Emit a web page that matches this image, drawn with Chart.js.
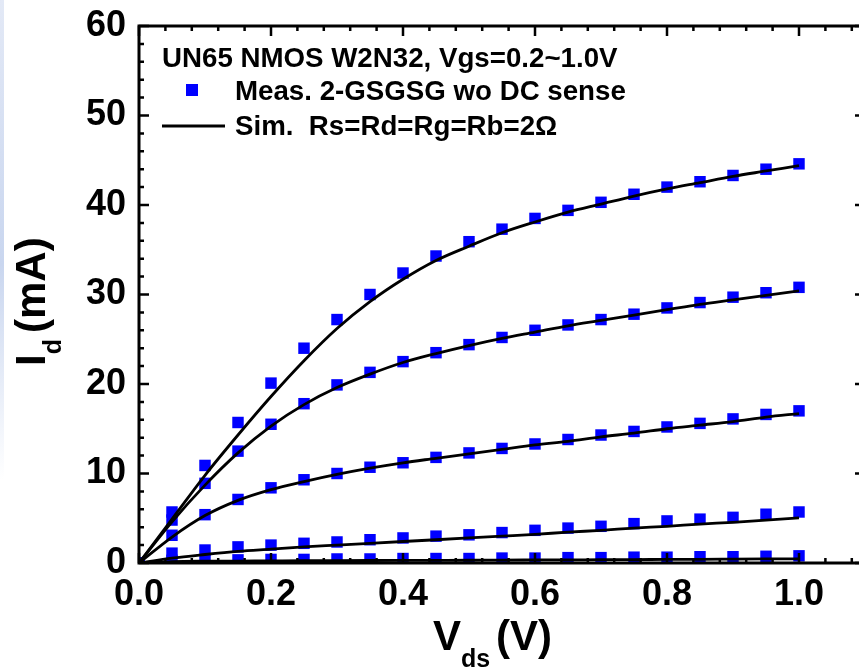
<!DOCTYPE html>
<html>
<head>
<meta charset="utf-8">
<title>UN65 NMOS W2N32 Id-Vds</title>
<script src="https://cdn.jsdelivr.net/npm/chart.js@4.4.1/dist/chart.umd.min.js"></script>
<style>
  html, body { margin: 0; padding: 0; background: #fff; overflow: hidden; }
  #wrap { position: relative; width: 859px; height: 670px; overflow: hidden; }
  #box { position: absolute; left: 0; top: 0; width: 880px; height: 670px; }
  #edge { position: absolute; left: 0; top: 0; width: 4px; height: 480px;
          background: linear-gradient(#e3e9f6, #c9d6ef 55%, #ffffff); }
</style>
</head>
<body>
<div id="wrap">
  <div id="box"><canvas id="c" width="880" height="670"></canvas></div>
  <div id="edge"></div>
</div>
<script>
// Drain voltage sweep (V)
const vds = [0, 0.05, 0.1, 0.15, 0.2, 0.25, 0.3, 0.35, 0.4, 0.45, 0.5,
             0.55, 0.6, 0.65, 0.7, 0.75, 0.8, 0.85, 0.9, 0.95, 1.0];

// Measured drain current (mA), one list per gate voltage
const measVgs10 = [0, 5.7, 10.9, 15.7, 20.1, 24.0, 27.2, 30.0, 32.4, 34.3, 35.9,
                   37.3, 38.5, 39.4, 40.3, 41.2, 42.0, 42.6, 43.3, 44.0, 44.6];
const measVgs08 = [0, 4.8, 8.9, 12.5, 15.5, 17.8, 19.9, 21.3, 22.5, 23.5, 24.4,
                   25.2, 26.0, 26.6, 27.2, 27.8, 28.5, 29.1, 29.7, 30.2, 30.8];
const measVgs06 = [0, 3.1, 5.4, 7.1, 8.4, 9.3, 10.0, 10.7, 11.2, 11.8, 12.3,
                   12.8, 13.3, 13.8, 14.3, 14.7, 15.2, 15.6, 16.1, 16.6, 17.0];
const measVgs04 = [0, 1.1, 1.45, 1.8, 2.0, 2.2, 2.35, 2.6, 2.8, 3.0, 3.15,
                   3.4, 3.65, 3.9, 4.1, 4.4, 4.7, 4.9, 5.1, 5.45, 5.7];
const measVgs02 = [0, 0.3, 0.35, 0.35, 0.4, 0.4, 0.45, 0.45, 0.5, 0.5, 0.5,
                   0.55, 0.55, 0.6, 0.6, 0.65, 0.65, 0.7, 0.7, 0.75, 0.8];

// Simulated drain current (mA), Rs=Rd=Rg=Rb=2 ohm
const simVgs10 = [0, 4.9, 9.8, 14.3, 18.6, 22.6, 26.2, 29.2, 31.7, 33.8, 35.4,
                  36.9, 38.1, 39.2, 40.1, 41.0, 41.8, 42.5, 43.2, 43.8, 44.4];
const simVgs08 = [0, 4.6, 8.7, 12.3, 15.3, 17.7, 19.6, 21.1, 22.4, 23.4, 24.3,
                  25.1, 25.8, 26.5, 27.1, 27.7, 28.3, 28.9, 29.4, 29.9, 30.4];
const simVgs06 = [0, 2.9, 5.3, 7.0, 8.2, 9.1, 9.9, 10.6, 11.2, 11.7, 12.2,
                  12.7, 13.2, 13.6, 14.1, 14.5, 15.0, 15.4, 15.8, 16.3, 16.7];
const simVgs04 = [0, 0.55, 0.95, 1.3, 1.55, 1.8, 2.0, 2.2, 2.4, 2.6, 2.8,
                  3.0, 3.2, 3.45, 3.65, 3.9, 4.1, 4.35, 4.55, 4.8, 5.05];
const simVgs02 = [0, 0.15, 0.2, 0.22, 0.24, 0.26, 0.27, 0.28, 0.29, 0.3, 0.31,
                  0.33, 0.34, 0.35, 0.37, 0.38, 0.4, 0.41, 0.43, 0.45, 0.47];

// Axis ranges and tick steps
const xRange = [0, 1.1];
const yRange = [0, 60];
const xMajorStep = 0.2, xMinorStep = 0.04;
const yMajorStep = 10, yMinorStep = 2;

// Legend texts
const legendTitle = 'UN65 NMOS W2N32, Vgs=0.2~1.0V';
const legendMeas = 'Meas. 2-GSGSG wo DC sense';
const legendSim = 'Sim.  Rs=Rd=Rg=Rb=2\u03A9';

const FONT = '"Liberation Sans", Arial, Helvetica, sans-serif';
const BLUE = '#0000ff';

const pts = arr => vds.map((v, i) => ({ x: v, y: arr[i] }));

const measSets = [measVgs10, measVgs08, measVgs06, measVgs04, measVgs02].map(a => ({
  type: 'scatter',
  data: pts(a),
  showLine: false,
  pointStyle: 'rect',
  pointRadius: 8.1,
  pointHoverRadius: 8.1,
  pointBackgroundColor: BLUE,
  pointBorderWidth: 0,
  borderColor: BLUE,
  order: 2
}));

const simSets = [simVgs10, simVgs08, simVgs06, simVgs04, simVgs02].map(a => ({
  type: 'line',
  data: pts(a),
  showLine: true,
  borderColor: '#000',
  borderWidth: 2.8,
  pointRadius: 0,
  fill: false,
  cubicInterpolationMode: 'monotone',
  order: 1
}));

// Box frame with inward ticks on all four sides, legend and axis titles
const framePlugin = {
  id: 'frame',
  afterDatasetsDraw(chart) {
    const { ctx, chartArea: a, scales: { x, y } } = chart;
    ctx.save();
    ctx.strokeStyle = '#000';
    ctx.lineCap = 'butt';
    ctx.lineWidth = 2.5;
    ctx.beginPath();
    const ny = Math.round((yRange[1] - yRange[0]) / yMinorStep);
    for (let i = 0; i <= ny; i++) {
      const v = yRange[0] + i * yMinorStep;
      const py = y.getPixelForValue(v);
      const len = (i % Math.round(yMajorStep / yMinorStep) === 0) ? 10 : 5;
      ctx.moveTo(a.left, py); ctx.lineTo(a.left + len, py);
      ctx.moveTo(a.right, py); ctx.lineTo(a.right - len, py);
    }
    const nx = Math.floor((xRange[1] - xRange[0]) / xMinorStep + 1e-9);
    for (let i = 0; i <= nx; i++) {
      const v = xRange[0] + i * xMinorStep;
      const px = x.getPixelForValue(v);
      const len = (i % Math.round(xMajorStep / xMinorStep) === 0) ? 10 : 5;
      ctx.moveTo(px, a.bottom); ctx.lineTo(px, a.bottom - len);
      ctx.moveTo(px, a.top); ctx.lineTo(px, a.top + len);
    }
    ctx.stroke();
    ctx.lineWidth = 3;
    ctx.strokeRect(a.left, a.top, a.right - a.left, a.bottom - a.top);
    ctx.restore();
  },
  afterDraw(chart) {
    const { ctx, chartArea: a } = chart;
    ctx.save();
    ctx.fillStyle = '#000';
    ctx.textBaseline = 'alphabetic';
    ctx.textAlign = 'left';

    // legend block inside the plot
    const lx = a.left + 23;
    ctx.font = 'bold 27.7px ' + FONT;
    ctx.fillText(legendTitle, lx, 67);
    ctx.fillStyle = BLUE;
    ctx.fillRect(lx + 24, 84, 12, 12);
    ctx.fillStyle = '#000';
    ctx.fillText(legendMeas, lx + 73, 100);
    ctx.strokeStyle = '#000';
    ctx.lineWidth = 3;
    ctx.beginPath();
    ctx.moveTo(lx, 126); ctx.lineTo(lx + 63, 126);
    ctx.stroke();
    ctx.fillText(legendSim, lx + 73, 135);

    // x axis title: V_ds (V)
    ctx.font = 'bold 42px ' + FONT;
    ctx.fillText('V', 433, 650);
    const vw = ctx.measureText('V').width;
    ctx.font = 'bold 25px ' + FONT;
    ctx.fillText('ds', 433 + vw, 667);
    ctx.font = 'bold 42px ' + FONT;
    ctx.fillText('(V)', 496, 650);

    // y axis title: I_d (mA)
    ctx.translate(45, 366);
    ctx.rotate(-Math.PI / 2);
    ctx.font = 'bold 42px ' + FONT;
    ctx.fillText('I', 0, 0);
    const iw = ctx.measureText('I').width;
    ctx.font = 'bold 25px ' + FONT;
    ctx.fillText('d', iw, 16);
    ctx.font = 'bold 42px ' + FONT;
    ctx.fillText('(mA)', 33, 0);
    ctx.restore();
  }
};

const tickFont = { family: FONT, size: 36, weight: 'bold' };

new Chart(document.getElementById('c'), {
  type: 'scatter',
  data: { datasets: [...simSets, ...measSets] },
  options: {
    responsive: false,
    animation: false,
    devicePixelRatio: 1,
    layout: { padding: { left: 86, top: 26, right: 15, bottom: 54 } },
    plugins: { legend: { display: false }, tooltip: { enabled: false } },
    scales: {
      x: {
        type: 'linear', min: xRange[0], max: xRange[1],
        grid: { display: false, drawTicks: false },
        border: { display: false },
        ticks: {
          stepSize: xMajorStep, includeBounds: false, autoSkip: false, maxRotation: 0,
          padding: 10, color: '#000', font: tickFont,
          callback: v => Number(v).toFixed(1)
        },
        afterFit(scale) {
          scale.height = 53;
          scale.paddingLeft = 0; scale.paddingRight = 0;
        }
      },
      y: {
        type: 'linear', min: yRange[0], max: yRange[1],
        grid: { display: false, drawTicks: false },
        border: { display: false },
        ticks: {
          stepSize: yMajorStep, includeBounds: false, padding: 13,
          color: '#000', font: tickFont,
          callback: v => String(Math.round(v))
        },
        afterFit(scale) {
          scale.width = 53;
          scale.paddingTop = 0; scale.paddingBottom = 0;
        }
      }
    }
  },
  plugins: [framePlugin]
});
</script>
</body>
</html>
